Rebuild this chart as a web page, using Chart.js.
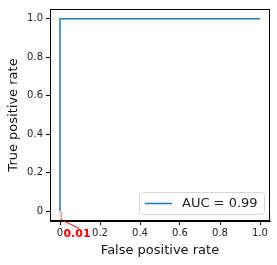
<!DOCTYPE html>
<html>
<head>
<meta charset="utf-8">
<script src="https://cdn.jsdelivr.net/npm/chart.js@4.4.0/dist/chart.umd.min.js"></script>
<style>
  html, body { margin: 0; padding: 0; background: #fff; }
  #wrap { width: 277px; height: 265px; }
</style>
</head>
<body>
<div id="wrap"><canvas id="rocChart"></canvas></div>
<script>
// ROC curve data
const fpr = [0, 0, 0, 1];
const tpr = [0, 0, 1, 1];
const xTicks = [0, 0.2, 0.4, 0.6, 0.8, 1.0];
const xTickLabels = ['0', '0.2', '0.4', '0.6', '0.8', '1.0'];
const yTicks = [0, 0.2, 0.4, 0.6, 0.8, 1.0];
const yTickLabels = ['0', '0.2', '0.4', '0.6', '0.8', '1.0'];
const aucLabel = 'AUC = 0.99';

// threshold annotation (red)
const markX = [0.006, 0.006];
const markY = [-0.005, -0.045];
const arrowX = [0.01, 0.095];
const arrowY = [-0.045, -0.088];
const noteText = '0.01';
const noteAt = [0.085, -0.12];

const font = 'DejaVu Sans';
const toPts = (xs, ys) => xs.map((x, i) => ({ x: x, y: ys[i] }));

// frame (top/right spines), legend box and red note
const extras = {
    id: 'extras',
    afterDraw(chart) {
        const c = chart.ctx, a = chart.chartArea;
        const sx = chart.scales.x, sy = chart.scales.y;
        c.save();
        c.strokeStyle = '#000';
        c.lineWidth = 1;
        c.strokeRect(a.left + 0.5, a.top + 0.5, a.right - a.left - 1, a.bottom - a.top - 1);

        // legend
        const w = 125, h = 22;
        const lx = a.right - 6 - w, ly = a.bottom - 7 - h;
        c.beginPath();
        c.roundRect(lx + 0.5, ly + 0.5, w, h, 3);
        c.fillStyle = 'rgba(255,255,255,0.8)';
        c.fill();
        c.strokeStyle = '#d6d6d6';
        c.stroke();
        c.beginPath();
        c.moveTo(lx + 6, ly + h / 2 + 0.5);
        c.lineTo(lx + 33, ly + h / 2 + 0.5);
        c.strokeStyle = '#1f77b4';
        c.lineWidth = 1.5;
        c.stroke();
        c.fillStyle = '#222';
        c.font = '13px "' + font + '"';
        c.textBaseline = 'middle';
        c.fillText(aucLabel, lx + 43, ly + h / 2 + 1);

        // red note
        c.fillStyle = '#ff0000';
        c.font = 'bold 11px "' + font + '"';
        c.textAlign = 'center';
        c.fillText(noteText, sx.getPixelForValue(noteAt[0]), sy.getPixelForValue(noteAt[1]));
        c.restore();
    }
};

const ctx = document.getElementById('rocChart').getContext('2d');
const chart = new Chart(ctx, {
    type: 'scatter',
    data: {
        datasets: [{
            label: aucLabel,
            data: toPts(fpr, tpr),
            showLine: true,
            borderColor: '#1f77b4',
            borderWidth: 1.5,
            pointRadius: 0,
            tension: 0
        }, {
            data: toPts(markX, markY),
            showLine: true,
            borderColor: '#ff0000',
            borderWidth: 1.2,
            borderDash: [1.5, 1.5],
            pointRadius: 0,
            clip: false
        }, {
            data: toPts(arrowX, arrowY),
            showLine: true,
            borderColor: '#ff0000',
            borderWidth: 1,
            pointRadius: 0,
            clip: false
        }]
    },
    options: {
        responsive: true,
        maintainAspectRatio: false,
        animation: false,
        layout: { padding: { left: 0, right: 7, top: 7, bottom: 0 } },
        plugins: {
            legend: { display: false },
            tooltip: { enabled: false }
        },
        scales: {
            x: {
                type: 'linear',
                min: -0.05,
                max: 1.05,
                afterBuildTicks: (s) => { s.ticks = xTicks.map(v => ({ value: v })); },
                afterFit: (s) => { s.height = 44; },
                grid: { drawOnChartArea: false, tickLength: 4, color: '#000' },
                border: { display: true, color: '#000' },
                ticks: {
                    padding: 2,
                    maxRotation: 0,
                    autoSkip: false,
                    font: { family: font, size: 10 },
                    color: '#222',
                    callback: (v) => xTickLabels[xTicks.indexOf(v)]
                },
                title: {
                    display: true,
                    text: 'False positive rate',
                    font: { family: font, size: 13 },
                    color: '#111',
                    padding: { top: 2, bottom: 7 }
                }
            },
            y: {
                type: 'linear',
                min: -0.05,
                max: 1.05,
                afterBuildTicks: (s) => { s.ticks = yTicks.map(v => ({ value: v })); },
                afterFit: (s) => { s.width = 50; },
                grid: { drawOnChartArea: false, tickLength: 4, color: '#000' },
                border: { display: true, color: '#000' },
                ticks: {
                    padding: 3,
                    autoSkip: false,
                    font: { family: font, size: 10 },
                    color: '#222',
                    callback: (v) => yTickLabels[yTicks.indexOf(v)]
                },
                title: {
                    display: true,
                    text: 'True positive rate',
                    font: { family: font, size: 13 },
                    color: '#111',
                    padding: { top: 6, bottom: 2 }
                }
            }
        }
    },
    plugins: [extras]
});
</script>
</body>
</html>
